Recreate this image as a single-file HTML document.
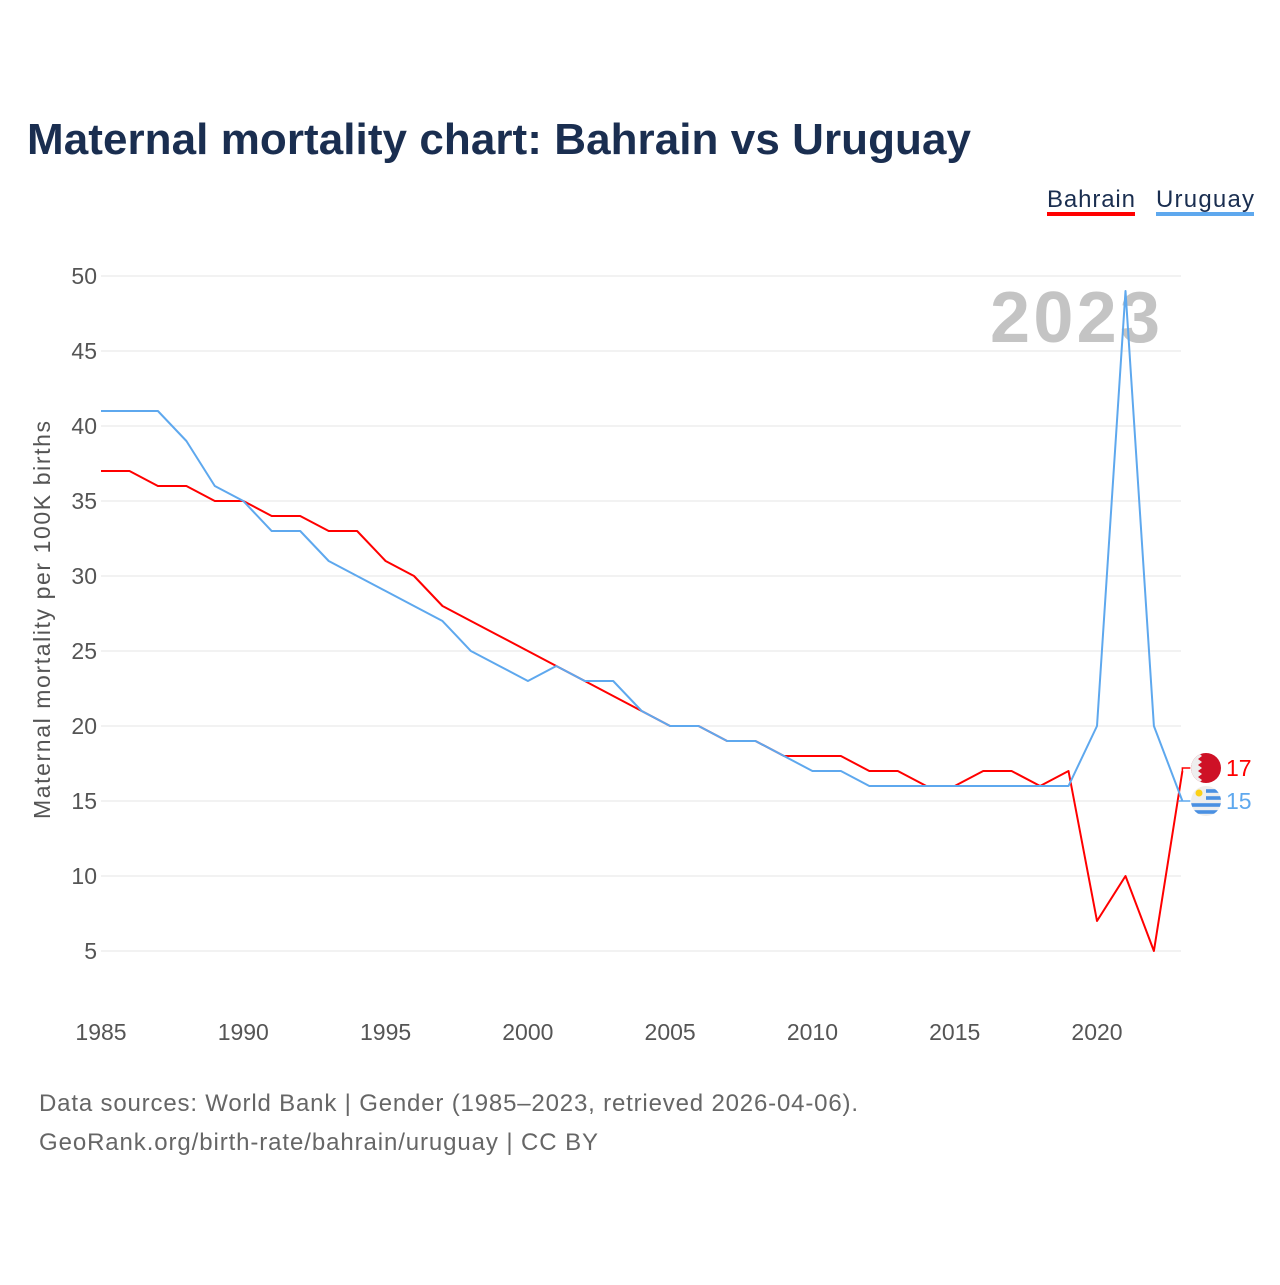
<!DOCTYPE html>
<html><head><meta charset="utf-8">
<style>
body{margin:0;background:#fff;width:1280px;height:1280px;overflow:hidden;font-family:"Liberation Sans",sans-serif;}
</style></head>
<body>
<svg id="chart" width="1280" height="1280" xmlns="http://www.w3.org/2000/svg">
<defs>
<clipPath id="cb"><circle cx="1206" cy="768" r="15"/></clipPath>
<clipPath id="cu"><circle cx="1206" cy="801" r="15"/></clipPath>
</defs>
<text x="27" y="154" font-size="44" font-weight="bold" fill="#1a2e50" textLength="944">Maternal mortality chart: Bahrain vs Uruguay</text>
<g>
<text x="1047" y="207" font-size="24" fill="#1a2e50" textLength="88">Bahrain</text>
<rect x="1047" y="212" width="88" height="4" fill="#ff0000"/>
<text x="1156" y="207" font-size="24" fill="#1a2e50" textLength="98">Uruguay</text>
<rect x="1156" y="212" width="98" height="4" fill="#5ea8ee"/>
</g>
<text x="1160" y="342" font-size="72" font-weight="bold" fill="#c4c4c4" text-anchor="end" textLength="170">2023</text>
<g id="grid"></g>
<g id="series"></g>
<text transform="translate(50,620) rotate(-90)" font-size="23" fill="#555" text-anchor="middle" textLength="398">Maternal mortality per 100K births</text>
<text x="39" y="1111" font-size="24" fill="#666" textLength="819">Data sources: World Bank | Gender (1985–2023, retrieved 2026-04-06).</text>
<text x="39" y="1150" font-size="24" fill="#666" textLength="559">GeoRank.org/birth-rate/bahrain/uruguay | CC BY</text>
</svg>
<script>
const years=[1985,1986,1987,1988,1989,1990,1991,1992,1993,1994,1995,1996,1997,1998,1999,2000,2001,2002,2003,2004,2005,2006,2007,2008,2009,2010,2011,2012,2013,2014,2015,2016,2017,2018,2019,2020,2021,2022,2023];
const bahrain=[37,37,36,36,35,35,34,34,33,33,31,30,28,27,26,25,24,23,22,21,20,20,19,19,18,18,18,17,17,16,16,17,17,16,17,7,10,5,17];
const uruguay=[41,41,41,39,36,35,33,33,31,30,29,28,27,25,24,23,24,23,23,21,20,20,19,19,18,17,17,16,16,16,16,16,16,16,16,20,49,20,15];
const yTicks=[5,10,15,20,25,30,35,40,45,50];
const xTicks=[1985,1990,1995,2000,2005,2010,2015,2020];
const NS="http://www.w3.org/2000/svg";
const X=y=>101+(y-1985)*(996/35);
const Y=v=>276+(50-v)*15;
const grid=document.getElementById('grid'),ser=document.getElementById('series');
function mk(tag,attrs,parent,txt){const e=document.createElementNS(NS,tag);for(const k in attrs)e.setAttribute(k,attrs[k]);if(txt!=null)e.textContent=txt;parent.appendChild(e);return e;}
yTicks.forEach(v=>{
 const l=mk('line',{x1:101,x2:1181,y1:Y(v),y2:Y(v),stroke:'#e6e6e6','stroke-width':1},grid);
 
 
 const t=mk('text',{x:97,y:Y(v)+8,'font-size':23,fill:'#555','text-anchor':'end'},grid,v);
 
 
});
xTicks.forEach(v=>{
 const t=mk('text',{x:X(v),y:1040,'font-size':23,fill:'#555','text-anchor':'middle'},grid,v);
 
 
});
function line(vals,color,name){
 const d=vals.map((v,i)=>(i?'L':'M')+X(years[i]).toFixed(1)+','+Y(v).toFixed(1)).join('');
 const p=mk('path',{d:d,fill:'none',stroke:color,'stroke-width':2,'stroke-linejoin':'round'},ser);
 
 
}
line(bahrain,'#ff0000','bahrain');
line(uruguay,'#5ea8ee','uruguay');
const lb=bahrain[bahrain.length-1],lu=uruguay[uruguay.length-1];
const ex=X(2023);
const yb=768,yu=801;
const c1=mk('path',{d:`M${ex},${Y(lb)}L${ex},${yb}L${ex+8},${yb}`,stroke:'#ff0000',fill:'none','stroke-width':1.5},ser);


const c2=mk('path',{d:`M${ex-4},${Y(lu)}L${ex+8},${yu}`,stroke:'#5ea8ee',fill:'none','stroke-width':1.5},ser);


const fb=mk('g',{'clip-path':'url(#cb)'},ser);


mk('rect',{x:1190,y:yb-16,width:32,height:32,fill:'#ce1126'},fb);
mk('path',{d:`M1190,${yb-16}L1198,${yb-16}L1202,${yb-12}L1198,${yb-9}L1202,${yb-6}L1198,${yb-3}L1202,${yb}L1198,${yb+3}L1202,${yb+6}L1198,${yb+9}L1202,${yb+12}L1198,${yb+16}L1190,${yb+16}Z`,fill:'#eee'},fb);
const tb=mk('text',{x:1226,y:yb+8,'font-size':23,fill:'#ff0000'},ser,lb);


const fu=mk('g',{'clip-path':'url(#cu)'},ser);


mk('rect',{x:1190,y:yu-16,width:32,height:32,fill:'#eee'},fu);
[-10,-3,4,11].forEach(o=>{mk('rect',{x:o<0?1206:1190,y:yu+o-1.8,width:o<0?16:32,height:3.6,fill:'#4a90e2'},fu);});
mk('circle',{cx:1199,cy:yu-8,r:3.5,fill:'#fcd116'},fu);
const tu=mk('text',{x:1226,y:yu+8,'font-size':23,fill:'#5ea8ee'},ser,lu);


</script>
</body></html>
